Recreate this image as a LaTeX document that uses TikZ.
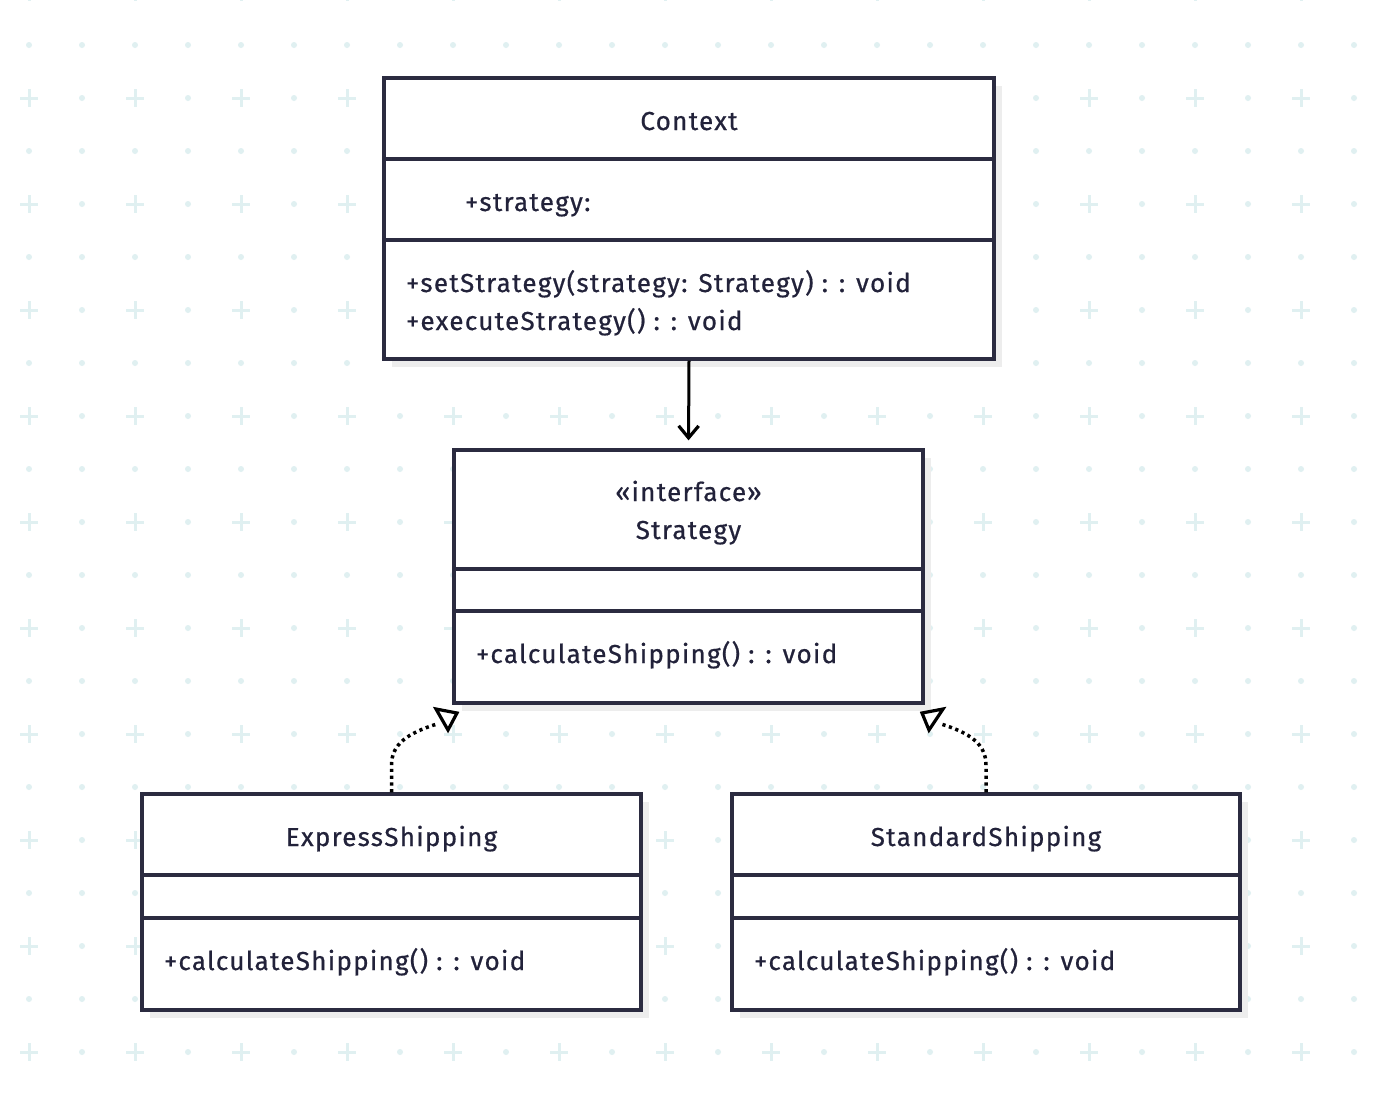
\documentclass[tikz,border=0pt]{standalone}
\usepackage{fontspec}
\setmainfont{Fira Sans}[LetterSpace=5.0,FakeBold=0.6]
\usetikzlibrary{arrows.meta,shadows}
\definecolor{gridc}{HTML}{E0F0F1}
\definecolor{boxc}{HTML}{2B2B40}
\definecolor{txtc}{HTML}{22223A}
\definecolor{shadc}{HTML}{EDEDED}
\tikzset{
  umlbox/.style={draw=boxc, line width=3.3pt, fill=white, rectangle, inner sep=0pt,
    general shadow={shadow xshift=8pt, shadow yshift=-8pt, fill=shadc}},
  divider/.style={draw=boxc, line width=3.3pt},
  lbl/.style={text=txtc, font=\fontsize{26}{30}\selectfont, inner sep=0pt, anchor=base},
  lbll/.style={lbl, anchor=base west},
  assoc/.style={draw=black, line width=3pt, -{Straight Barb[length=12pt,width=20pt,line width=3.2pt]}},
  realiz/.style={draw=black, line width=3.5pt, dash pattern=on 3.2pt off 3.6pt},
  tri/.style={draw=black, line width=3.2pt, line join=miter, fill=white},
  gdot/.style={fill=gridc},
  gplus/.style={draw=gridc, line width=3pt}
}
\begin{document}
\begin{tikzpicture}[x=1pt,y=-1pt]
\useasboundingbox (0,0) rectangle (1398,1096);
\fill[white] (0,0) rectangle (1398,1096);
% background grid
\foreach \r in {0,...,21}{
  \foreach \c in {0,...,25}{
    \pgfmathsetmacro{\gx}{29+53*\c}
    \pgfmathsetmacro{\gy}{-8+53*\r}
    \pgfmathtruncatemacro{\isplus}{(mod(\r,2)==0)&&(mod(\c,2)==0)}
    \ifnum\isplus=1
      \draw[gplus] (\gx-9,\gy) -- (\gx+9,\gy) (\gx,\gy-9) -- (\gx,\gy+9);
    \else
      \fill[gdot] (\gx,\gy) circle (3);
    \fi
  }
}
% boxes
\node[umlbox, minimum width=610pt, minimum height=281pt] (ctx) at (689,218.5) {};
\node[umlbox, minimum width=469pt, minimum height=253pt] (str) at (688.5,576.5) {};
\node[umlbox, minimum width=499pt, minimum height=216pt] (exp) at (391.5,902) {};
\node[umlbox, minimum width=508pt, minimum height=216pt] (std) at (986,902) {};
% dividers
\draw[divider] (ctx.west |- 0,159) -- (ctx.east |- 0,159);
\draw[divider] (ctx.west |- 0,240) -- (ctx.east |- 0,240);
\draw[divider] (str.west |- 0,569) -- (str.east |- 0,569);
\draw[divider] (str.west |- 0,611) -- (str.east |- 0,611);
\draw[divider] (exp.west |- 0,875) -- (exp.east |- 0,875);
\draw[divider] (exp.west |- 0,918) -- (exp.east |- 0,918);
\draw[divider] (std.west |- 0,875) -- (std.east |- 0,875);
\draw[divider] (std.west |- 0,918) -- (std.east |- 0,918);
% texts
\node[lbl] (ctxname) at (689,130) {Context};
\node[lbll] (ctxattr) at (465,211) {+strategy:};
\node[lbll] (ctxm1) at (406,292) {+setStrategy(strategy: Strategy) : : void};
\node[lbll] (ctxm2) at (406,330) {+executeStrategy() : : void};
\node[lbl] (strst) at (688.5,501) {«interface»};
\node[lbl] (strname) at (688.5,539) {Strategy};
\node[lbll] (strm) at (476,663) {+calculateShipping() : : void};
\node[lbl] (expname) at (391.5,846) {ExpressShipping};
\node[lbll] (expm) at (164,970) {+calculateShipping() : : void};
\node[lbl] (stdname) at (986,846) {StandardShipping};
\node[lbll] (stdm) at (754,970) {+calculateShipping() : : void};
% association
\draw[assoc, shorten >=8pt] (ctx.south) -- (str.north);
% realizations
\coordinate (e1) at (391.5,765);
\coordinate (e2) at (437,724);
\coordinate (s1) at (986,765);
\coordinate (s2) at (941,724);
\draw[realiz] (exp.north) -- (e1) .. controls (391.5,744) and (408,733) .. (e2);
\draw[realiz] (std.north) -- (s1) .. controls (986,744) and (970,733) .. (s2);
\draw[tri] (436,709) -- (457,713) -- (448,730) -- cycle;
\draw[tri] (922,713) -- (943,709) -- (929,730) -- cycle;
\end{tikzpicture}
\end{document}
